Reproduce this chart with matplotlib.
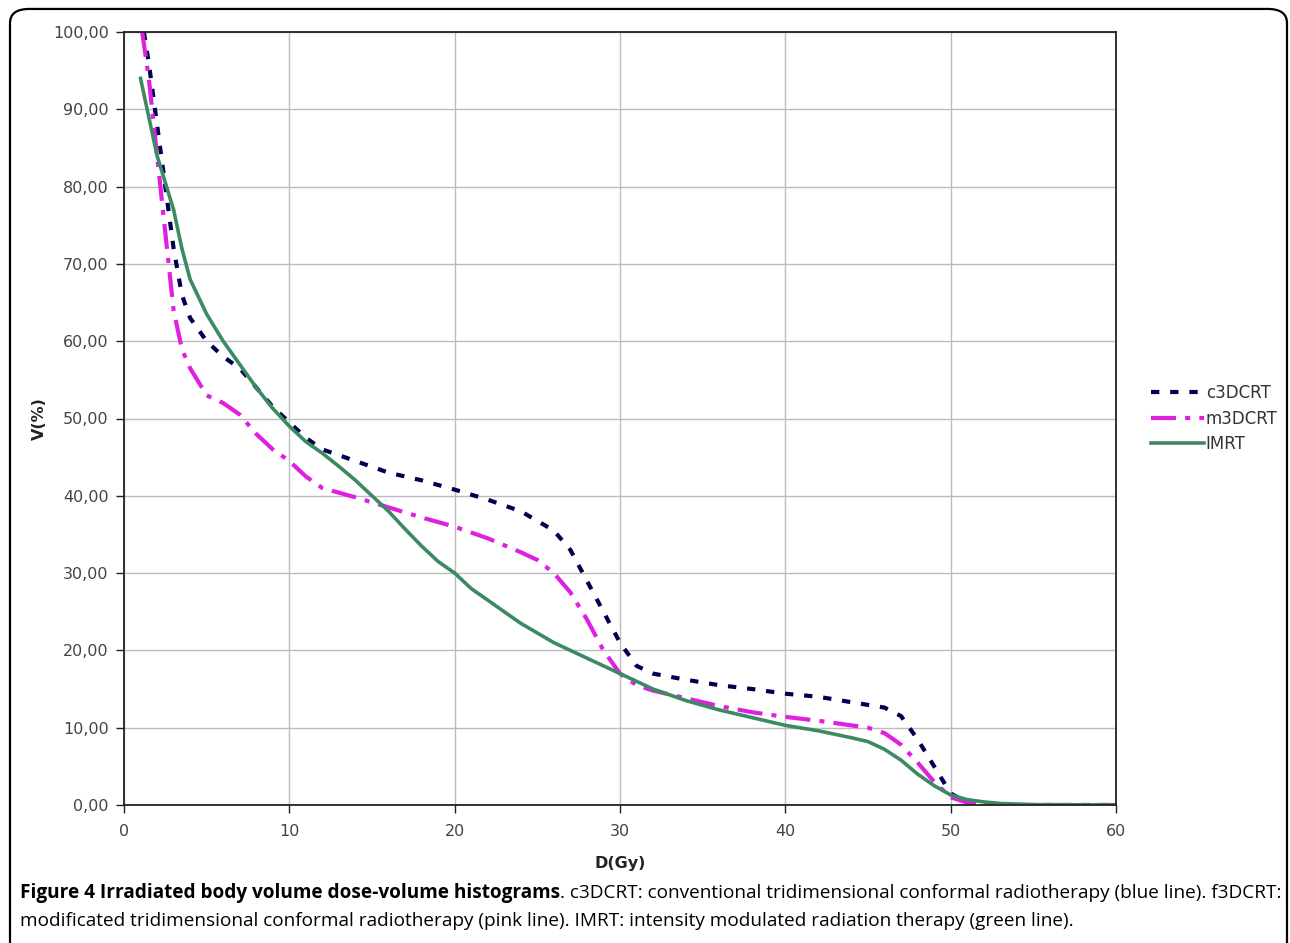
import matplotlib
matplotlib.use("Agg")
import matplotlib.pyplot as plt
from matplotlib.patches import FancyBboxPatch
from matplotlib.ticker import FuncFormatter
from matplotlib.offsetbox import TextArea, HPacker, AnchoredOffsetbox

# ---- data ----
c3_dose = [1.2, 1.5, 2, 2.5, 3, 3.5, 4, 5, 6, 7, 8, 9, 10, 11, 12, 14, 16, 18, 20, 22, 24, 26, 27, 28, 29, 30,
           31, 32, 34, 36, 38, 40, 42, 44, 46, 47, 48, 49, 50, 51, 52, 60]
c3_vol = [100, 96, 88, 80, 72, 66, 63, 60, 58, 56.5, 54, 51.5, 49.5, 47.5, 46, 44.5, 43, 42, 40.8, 39.5, 38, 35.5,
          33, 29, 25, 21, 18, 17, 16.2, 15.5, 15, 14.4, 14, 13.3, 12.6, 11.5, 8.5, 5, 1.5, 0.3, 0, 0]

m3_dose = [1.1, 1.5, 2, 2.5, 3, 3.5, 4, 5, 6, 7, 8, 9, 10, 11, 12, 14, 16, 18, 20, 22, 24, 25, 26, 27, 28, 29, 30,
           31, 32, 34, 36, 38, 40, 42, 44, 45, 46, 47, 48, 49, 50, 51, 52, 53, 60]
m3_vol = [100, 94, 84, 74, 64, 59, 56.5, 53, 52, 50.5, 48, 46, 44.5, 42.5, 41, 39.8, 38.5, 37.2, 36, 34.5, 32.7,
          31.7, 30, 27.5, 24, 20, 17, 15.5, 14.8, 13.8, 12.8, 12, 11.4, 10.9, 10.3, 10, 9.3, 7.8, 5.5, 3, 1, 0.3,
          0.1, 0, 0]

imrt_dose = [1, 1.5, 2, 3, 3.5, 4, 5, 6, 7, 8, 9, 10, 11, 12, 13, 14, 15, 16, 17, 18, 19, 20, 21, 22, 24, 26, 28,
             30, 32, 34, 36, 38, 40, 42, 44, 45, 46, 47, 48, 49, 50, 51, 52, 53, 55, 60]
imrt_vol = [94, 89, 84, 77, 72, 68, 63.5, 60, 57, 54, 51.3, 49, 47, 45.5, 43.8, 42, 40, 38, 35.7, 33.5, 31.5, 30,
            28, 26.5, 23.5, 21, 19, 17, 15, 13.5, 12.3, 11.3, 10.3, 9.6, 8.7, 8.2, 7.2, 5.8, 4, 2.5, 1.3, 0.7,
            0.4, 0.2, 0.05, 0]

series_names = ["c3DCRT", "m3DCRT", "IMRT"]
x_ticks = [0, 10, 20, 30, 40, 50, 60]
y_ticks = [0, 10, 20, 30, 40, 50, 60, 70, 80, 90, 100]

# ---- figure ----
fig = plt.figure(figsize=(12.9, 9.43), dpi=100)
ax = fig.add_axes([124 / 1290, 1 - 805 / 943, (1116 - 124) / 1290, (805 - 32) / 943])

ax.plot(c3_dose, c3_vol, color="#000050", lw=3.0, dashes=(2.0, 2.6), label=series_names[0])
ax.plot(m3_dose, m3_vol, color="#e020e0", lw=3.0, dashes=(6, 2.2, 1.2, 2.2), label=series_names[1])
ax.plot(imrt_dose, imrt_vol, color="#3b8a62", lw=2.6, label=series_names[2])

ax.set_xlim(0, 60)
ax.set_ylim(0, 100)
ax.set_xticks(x_ticks)
ax.set_yticks(y_ticks)
ax.yaxis.set_major_formatter(FuncFormatter(lambda v, p: f"{v:.2f}".replace(".", ",")))
ax.grid(True, color="#bcbcbc", lw=1.0)
ax.set_axisbelow(True)
for s in ax.spines.values():
    s.set_color("#222222")
    s.set_linewidth(1.3)
ax.tick_params(direction="out", length=6, width=1, colors="#222222", labelsize=11.5, pad=5,
               labelcolor="#444444")
ax.tick_params(axis="x", pad=8)

ax.set_xlabel("D(Gy)", fontsize=11.5, fontweight="bold", labelpad=12, color="#222222")
ax.set_ylabel("V(%)", fontsize=11.5, fontweight="bold", labelpad=4, color="#222222")

leg = ax.legend(loc="center left", bbox_to_anchor=(1.02, 0.5), frameon=False, fontsize=12,
                handlelength=3.2, handletextpad=0.1, labelspacing=0.45)
for t in leg.get_texts():
    t.set_color("#333333")

# border
border = FancyBboxPatch((10 / 1290, -0.02), (1287 - 10) / 1290, (943 - 8) / 943 + 0.02 - 0.001,
                        boxstyle="round,pad=0,rounding_size=0.015", transform=fig.transFigure,
                        fill=False, ec="black", lw=1.6, clip_on=False)
fig.add_artist(border)

cap_size = 13.65
t1 = TextArea("Figure 4 Irradiated body volume dose-volume histograms",
              textprops=dict(fontsize=cap_size, fontweight="bold", family="Open Sans"))
t2 = TextArea(". c3DCRT: conventional tridimensional conformal radiotherapy (blue line). f3DCRT:",
              textprops=dict(fontsize=cap_size, family="Open Sans"))
pk = HPacker(children=[t1, t2], align="baseline", pad=0, sep=0)
ab = AnchoredOffsetbox(loc="center left", child=pk, pad=0, frameon=False,
                       bbox_to_anchor=(20 / 1290, 1 - 893 / 943), bbox_transform=fig.transFigure,
                       borderpad=0)
fig.add_artist(ab)
fig.text(20 / 1290, 1 - 921 / 943,
         "modificated tridimensional conformal radiotherapy (pink line). IMRT: intensity modulated radiation therapy (green line).",
         fontsize=cap_size, family="Open Sans", va="center", ha="left")

fig.savefig("out.png", dpi=100)
